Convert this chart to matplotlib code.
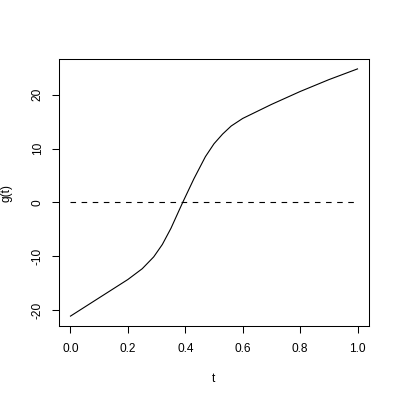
import matplotlib
matplotlib.use('Agg')
import matplotlib.pyplot as plt

# values
t = [0, 0.1, 0.2, 0.25, 0.29, 0.32, 0.35, 0.39, 0.43, 0.47, 0.5, 0.53,
     0.56, 0.6, 0.7, 0.8, 0.9, 1.0]
g = [-21.1, -17.7, -14.3, -12.3, -10.1, -7.8, -4.8, -0.1, 4.4, 8.5, 10.9,
     12.7, 14.2, 15.6, 18.2, 20.6, 22.8, 24.8]
zero_t = [0, 1]
zero_g = [0, 0]
x_ticks = [0.0, 0.2, 0.4, 0.6, 0.8, 1.0]
y_ticks = [-20, -10, 0, 10, 20]

plt.rcParams['font.family'] = ['Liberation Sans', 'DejaVu Sans']

fig = plt.figure(figsize=(4, 4), dpi=100)
ax = fig.add_axes([59 / 400, 74 / 400, 310 / 400, 267 / 400])

ax.plot(t, g, color='black', lw=0.8)
ax.plot(zero_t, zero_g, color='black', lw=0.8, linestyle=(0, (5, 5)))

pad_x = 0.04 * (max(t) - min(t))
pad_y = 0.04 * (max(g) - min(g))
ax.set_xlim(min(t) - pad_x, max(t) + pad_x)
ax.set_ylim(min(g) - pad_y, max(g) + pad_y)

ax.set_xticks(x_ticks)
ax.set_xticklabels(['%.1f' % v for v in x_ticks])
ax.set_yticks(y_ticks)
ax.set_yticklabels([str(v) for v in y_ticks], rotation=90, va='center')
ax.tick_params(direction='out', length=5, width=0.75, labelsize=8.6, colors='black')
ax.tick_params(axis='x', pad=7)
ax.tick_params(axis='y', pad=6)

for s in ax.spines.values():
    s.set_linewidth(0.75)

ax.set_xlabel('t', fontsize=8.6, labelpad=13)
ax.set_ylabel('g(t)', fontsize=8.6, labelpad=14)

fig.savefig('out.png', dpi=100)
